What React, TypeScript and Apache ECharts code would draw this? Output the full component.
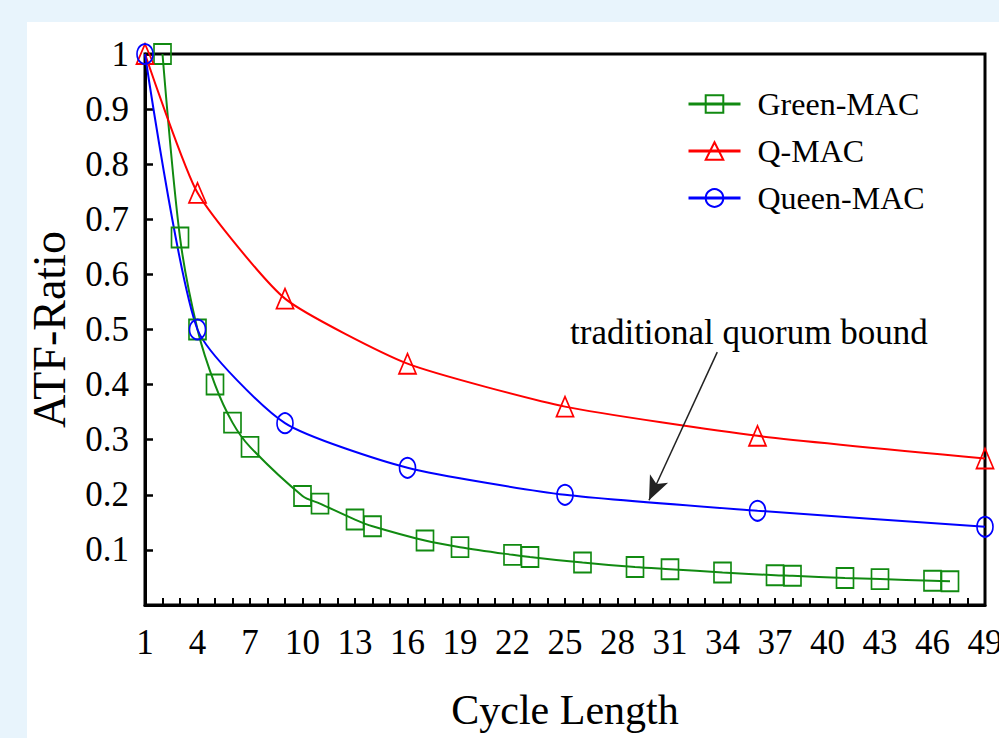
import React, { useEffect, useRef } from "react";
import * as echarts from "echarts";

const greenX = [2, 3, 4, 5, 6, 7, 10, 11, 13, 14, 17, 19, 22, 23, 26, 29, 31, 34, 37, 38, 41, 43, 46, 47];
const greenY = [1.0, 0.667, 0.5, 0.4, 0.331, 0.287, 0.198, 0.184, 0.155, 0.143, 0.117, 0.105, 0.091, 0.087, 0.077, 0.069, 0.065, 0.059, 0.054, 0.053, 0.049, 0.047, 0.044, 0.043];
const qX = [1, 4, 9, 16, 25, 36, 49];
const qY = [1.0, 0.748, 0.556, 0.438, 0.36, 0.307, 0.266];
const queenX = [1, 4, 9, 16, 25, 36, 49];
const queenY = [1.0, 0.5, 0.33, 0.249, 0.2, 0.171, 0.142];
const seriesNames = ["Green-MAC", "Q-MAC", "Queen-MAC"];
const annotationText = "traditional quorum bound";
const arrowFrom = [33.7, 0.459];
const arrowTo = [29.8, 0.19];

const FONT = "'Liberation Serif', 'Times New Roman', serif";
const GREEN = "#118a11";
const RED = "#ff0000";
const BLUE = "#0000ff";

const zip = (xs: number[], ys: number[]) => xs.map((x, i) => [x, ys[i]]);

export default function App() {
  const ref = useRef<HTMLDivElement>(null);
  useEffect(() => {
    if (!ref.current) return;
    const chart = echarts.init(ref.current, undefined, { renderer: "svg" });
    const mk = (name: string, color: string, symbol: string, size: number[], data: number[][], smooth: number, extra: any = {}) => ({
      name,
      type: "line",
      data,
      smooth,
      clip: false,
      symbol,
      symbolSize: size,
      showAllSymbol: true,
      lineStyle: { color, width: 2 },
      itemStyle: { color: "rgba(0,0,0,0)", borderColor: color, borderWidth: 1.8 },
      emphasis: { disabled: true },
      ...extra,
    });
    chart.setOption({
      animation: false,
      backgroundColor: "transparent",
      textStyle: { fontFamily: FONT },
      grid: {
        left: 145,
        right: 14,
        top: 54,
        bottom: 133,
        outerBoundsMode: "none",
        containLabel: false,
        show: true,
        borderColor: "#000",
        borderWidth: 3,
        backgroundColor: "transparent",
      },
      legend: {
        orient: "vertical",
        left: 682,
        top: 83,
        itemWidth: 52,
        itemHeight: 22,
        itemGap: 15,
        data: seriesNames,
        lineStyle: { width: 3 },
        textStyle: {
          fontFamily: FONT,
          fontSize: 32,
          color: "#000",
          lineHeight: 32,
          padding: [0, 0, 0, 12],
        },
      },
      xAxis: {
        type: "value",
        min: 1,
        max: 49,
        interval: 3,
        axisLine: { lineStyle: { color: "#000", width: 3 } },
        axisTick: { inside: true, length: 7, lineStyle: { color: "#000", width: 2 } },
        minorTick: { show: true, splitNumber: 3, length: 7, lineStyle: { color: "#000", width: 2 } },
        splitLine: { show: false },
        axisLabel: { fontFamily: FONT, fontSize: 35, color: "#000", margin: 20 },
        name: "Cycle Length",
        nameLocation: "middle",
        nameGap: 84,
        nameTextStyle: { fontFamily: FONT, fontSize: 42, color: "#000" },
      },
      yAxis: {
        type: "value",
        min: 0,
        max: 1,
        interval: 0.1,
        axisLine: { lineStyle: { color: "#000", width: 3 } },
        axisTick: { inside: true, length: 8, lineStyle: { color: "#000", width: 2.5 } },
        splitLine: { show: false },
        axisLabel: {
          fontFamily: FONT,
          fontSize: 35,
          color: "#000",
          margin: 16,
          formatter: (v: number) => (v === 0 ? "" : String(Math.round(v * 10) / 10)),
        },
        name: "ATF-Ratio",
        nameLocation: "middle",
        nameGap: 73,
        nameTextStyle: { fontFamily: FONT, fontSize: 46, color: "#000" },
      },
      series: [
        mk(seriesNames[0], GREEN, "rect", [17, 20], zip(greenX, greenY), 0.3),
        mk(seriesNames[1], RED, "triangle", [17, 20], zip(qX, qY), 0.18),
        mk(seriesNames[2], BLUE, "circle", [16, 20], zip(queenX, queenY), 0.2, {
          markLine: {
            silent: true,
            symbol: ["none", "arrow"],
            symbolSize: [15, 24],
            label: { show: false },
            lineStyle: { color: "#222", width: 1.5, type: "solid" },
            data: [[{ coord: arrowFrom }, { coord: arrowTo }]],
          },
        }),
      ],
      graphic: [
        {
          type: "text",
          left: 570,
          top: 315,
          style: { text: annotationText, fontFamily: FONT, fontSize: 35, fill: "#000" },
        },
      ],
    });
    return () => chart.dispose();
  }, []);
  return (
    <div style={{ position: "fixed", left: 0, top: 0, width: 999, height: 738, background: "#e8f4fc", overflow: "hidden" }}>
      <div style={{ position: "absolute", left: 27, top: 22, right: 0, bottom: 0, background: "#fff" }} />
      <div ref={ref} style={{ position: "absolute", left: 0, top: 0, width: 999, height: 738 }} />
    </div>
  );
}
